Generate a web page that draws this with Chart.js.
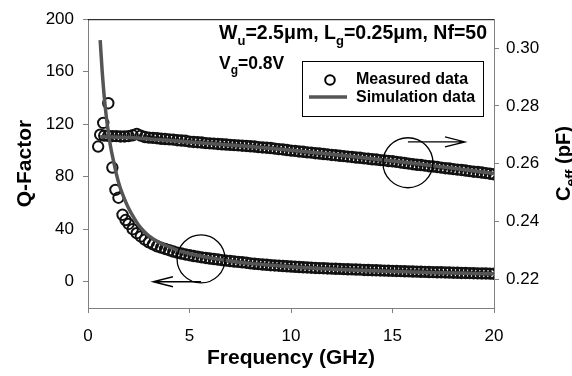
<!DOCTYPE html>
<html>
<head>
<meta charset="utf-8">
<script src="https://cdn.jsdelivr.net/npm/chart.js@4.4.1/dist/chart.umd.min.js"></script>
<style>
  html, body { margin: 0; padding: 0; background: #fff; }
  canvas { display: block; }
</style>
</head>
<body>
<canvas id="myChart" width="572" height="376"></canvas>
<script>
// values
const freqMeas = [2,2.2,2.4,2.6,2.8,3,3.2,3.4,3.6,3.8,4,4.2,4.4,4.6,4.8,5,5.2,5.4,5.6,5.8,
  6,6.2,6.4,6.6,6.8,7,7.2,7.4,7.6,7.8,8,8.2,8.4,8.6,8.8,9,9.2,9.4,9.6,9.8,
  10,10.2,10.4,10.6,10.8,11,11.2,11.4,11.6,11.8,12,12.2,12.4,12.6,12.8,13,13.2,13.4,13.6,13.8,
  14,14.2,14.4,14.6,14.8,15,15.2,15.4,15.6,15.8,16,16.2,16.4,16.6,16.8,17,17.2,17.4,17.6,17.8,
  18,18.2,18.4,18.6,18.8,19,19.2,19.4,19.6,19.8,20];

const freqQLow = [0.5,0.75,1.0,1.2,1.35,1.5,1.7,1.85];
const qMeasLow = [103,121,136,87,70,64,51,47];
const qMeas = [44,40,37,34.5,32,30,28.5,27,26,25,
  24,23,22.2,21.5,20.8,20.2,19.6,19.1,18.6,18.1,
  17.7,17.3,16.9,16.5,16.1,15.8,15.4,15.1,14.8,14.5,
  14.0,13.7,13.4,13.1,12.9,12.6,12.4,12.2,12.0,11.8,
  11.6,11.4,11.2,11.0,10.9,10.7,10.5,10.4,10.3,10.1,
  10.0,9.9,9.8,9.6,9.5,9.4,9.3,9.2,9.0,8.9,
  8.8,8.7,8.6,8.5,8.4,8.3,8.2,8.1,8.0,7.9,
  7.8,7.7,7.6,7.5,7.4,7.3,7.2,7.2,7.1,7.0,
  6.9,6.8,6.7,6.7,6.6,6.5,6.4,6.3,6.3,6.2,
  6.1];

const freqCLow = [0.6,0.8,1.0,1.2,1.4,1.6,1.8];
const cMeasLow = [0.2700,0.2697,0.2696,0.2695,0.2695,0.2694,0.2694];
const cMeas = [0.2695,0.2698,0.2703,0.2697,0.2692,0.2690,0.2689,0.2688,0.2686,0.2685,
  0.2684,0.2683,0.2681,0.2680,0.2679,0.2676,0.2675,0.2674,0.2673,0.2671,
  0.2670,0.2669,0.2668,0.2667,0.2666,0.2665,0.2664,0.2663,0.2662,0.2661,
  0.2660,0.2659,0.2657,0.2656,0.2655,0.2654,0.2652,0.2650,0.2649,0.2647,
  0.2645,0.2644,0.2642,0.2641,0.2639,0.2638,0.2636,0.2635,0.2633,0.2632,
  0.2630,0.2629,0.2627,0.2626,0.2624,0.2623,0.2621,0.2620,0.2618,0.2617,
  0.2615,0.2614,0.2612,0.2611,0.2609,0.2608,0.2606,0.2604,0.2602,0.2600,
  0.2598,0.2596,0.2595,0.2593,0.2591,0.2590,0.2588,0.2586,0.2584,0.2583,
  0.2581,0.2579,0.2578,0.2576,0.2574,0.2572,0.2571,0.2569,0.2567,0.2565,
  0.2563];

const freqQSim = [0.6,0.7,0.8,0.9,1.0,1.1,1.2,1.3,1.4,1.5,1.6,1.8,2.0,2.25,2.5,2.75,3.0,3.5,4.0,4.5,5,
  6,7,8,9,10,11,12,13,14,15,16,17,18,19,20];
const qSim = [184,160,141,126,114,104,96,89,82,76,71,63,56,49,43,38.5,35,30,26.5,23.5,21.5,
  18.2,15.8,14,12.6,11.4,10.4,9.6,8.9,8.3,7.8,7.4,7.0,6.6,6.3,6.0];

const freqCSim = [0.6,2,4,6,8,10,12,14,16,18,20];
const cSim = [0.2693,0.2690,0.2680,0.2670,0.2659,0.2646,0.2632,0.2617,0.2601,0.2584,0.2566];

const qTicks = [0,40,80,120,160,200];
const cTicks = [0.22,0.24,0.26,0.28,0.30];

const FONT = '"Liberation Sans", Arial, sans-serif';
const LINE_GRAY = '#555555';
const AXIS_GRAY = '#808080';

const toPoints = (xs, ys) => xs.map((x, i) => ({ x: x, y: ys[i] }));

// text with subscript parts; align 'left', 'center' or 'right' on x
const drawRich = (ctx, parts, x, y, size, align) => {
  const subSize = Math.round(size * 0.68);
  let total = 0;
  parts.forEach(p => {
    ctx.font = 'bold ' + (p[1] ? subSize : size) + 'px ' + FONT;
    total += ctx.measureText(p[0]).width;
  });
  let cx = align === 'center' ? x - total / 2 : align === 'right' ? x - total : x;
  ctx.textAlign = 'left';
  ctx.textBaseline = 'alphabetic';
  parts.forEach(p => {
    ctx.font = 'bold ' + (p[1] ? subSize : size) + 'px ' + FONT;
    ctx.fillText(p[0], cx, y + (p[1] ? size * 0.3 : 0));
    cx += ctx.measureText(p[0]).width;
  });
};

const arrow = (ctx, x1, y, x2) => {
  const dir = x2 > x1 ? 1 : -1;
  ctx.beginPath();
  ctx.moveTo(x1, y);
  ctx.lineTo(x2, y);
  ctx.moveTo(x2 - dir * 20, y - 5);
  ctx.lineTo(x2, y);
  ctx.lineTo(x2 - dir * 20, y + 5);
  ctx.stroke();
};

const extras = {
  id: 'extras',
  afterDraw(chart) {
    const ctx = chart.ctx;
    const { x, y, y1 } = chart.scales;
    const area = chart.chartArea;
    ctx.save();

    // top frame line
    ctx.strokeStyle = '#000';
    ctx.lineWidth = 1;
    ctx.beginPath();
    ctx.moveTo(area.left, area.top + 0.5);
    ctx.lineTo(area.right, area.top + 0.5);
    ctx.stroke();

    // marker circles and arrows
    ctx.lineWidth = 1.3;
    ctx.beginPath();
    ctx.arc(x.getPixelForValue(5.57), y.getPixelForValue(17.4), 24, 0, Math.PI * 2);
    ctx.stroke();
    arrow(ctx, x.getPixelForValue(5.57), y.getPixelForValue(0), x.getPixelForValue(3.2));
    ctx.beginPath();
    ctx.arc(x.getPixelForValue(15.76), y1.getPixelForValue(0.2603), 25, 0, Math.PI * 2);
    ctx.stroke();
    arrow(ctx, x.getPixelForValue(15.76), y1.getPixelForValue(0.2675), x.getPixelForValue(18.57));

    // device text
    ctx.fillStyle = '#000';
    drawRich(ctx, [['W'], ['u', true], ['=2.5\u03bcm, L'], ['g', true], ['=0.25\u03bcm, Nf=50']], 487, 39, 19.5, 'right');
    drawRich(ctx, [['V'], ['g', true], ['=0.8V']], 219, 69, 17.5, 'left');

    // legend
    ctx.fillStyle = '#fff';
    ctx.fillRect(302.5, 61.5, 181, 55);
    ctx.strokeStyle = '#000';
    ctx.lineWidth = 1;
    ctx.strokeRect(302.5, 61.5, 181, 55);
    ctx.lineWidth = 2;
    ctx.beginPath();
    ctx.arc(330, 80, 4.8, 0, Math.PI * 2);
    ctx.stroke();
    ctx.strokeStyle = LINE_GRAY;
    ctx.lineWidth = 3.5;
    ctx.beginPath();
    ctx.moveTo(309, 97);
    ctx.lineTo(347, 97);
    ctx.stroke();
    ctx.fillStyle = '#000';
    ctx.font = 'bold 16px ' + FONT;
    ctx.textAlign = 'left';
    ctx.textBaseline = 'middle';
    ctx.fillText('Measured data', 356, 80);
    ctx.fillText('Simulation data', 356, 98);

    // axis titles
    ctx.font = 'bold 21px ' + FONT;
    ctx.textAlign = 'center';
    ctx.textBaseline = 'middle';
    ctx.fillText('Frequency (GHz)', (area.left + area.right) / 2, 358);
    ctx.save();
    ctx.translate(25, (area.top + area.bottom) / 2);
    ctx.rotate(-Math.PI / 2);
    ctx.fillText('Q-Factor', 0, 0);
    ctx.restore();
    ctx.save();
    ctx.translate(570, (area.top + area.bottom) / 2);
    ctx.rotate(-Math.PI / 2);
    drawRich(ctx, [['C'], ['eff', true], [' (pF)']], 0, 0, 20, 'center');
    ctx.restore();

    ctx.restore();
  }
};

const tickStyle = { color: '#000', font: { family: FONT, size: 17 } };

const printChart = () => {
  const ctx = document.getElementById('myChart').getContext('2d');
  new Chart(ctx, {
    type: 'scatter',
    data: {
      datasets: [
        {
          label: 'Q simulation',
          data: toPoints(freqQSim, qSim),
          showLine: true,
          cubicInterpolationMode: 'monotone',
          borderColor: LINE_GRAY,
          borderWidth: 3.5,
          pointRadius: 0,
          yAxisID: 'y'
        },
        {
          label: 'Ceff simulation',
          data: toPoints(freqCSim, cSim),
          showLine: true,
          cubicInterpolationMode: 'monotone',
          borderColor: LINE_GRAY,
          borderWidth: 3.5,
          pointRadius: 0,
          yAxisID: 'y1'
        },
        {
          label: 'Q measured',
          data: toPoints(freqQLow.concat(freqMeas), qMeasLow.concat(qMeas)),
          pointStyle: 'circle',
          pointRadius: 5.2,
          borderWidth: 2,
          borderColor: '#111',
          backgroundColor: 'rgba(0,0,0,0)',
          yAxisID: 'y'
        },
        {
          label: 'Ceff measured',
          data: toPoints(freqCLow.concat(freqMeas), cMeasLow.concat(cMeas)),
          pointStyle: 'circle',
          pointRadius: 5.2,
          borderWidth: 2,
          borderColor: '#111',
          backgroundColor: 'rgba(0,0,0,0)',
          yAxisID: 'y1'
        }
      ]
    },
    options: {
      responsive: false,
      animation: false,
      layout: { padding: { top: 16, left: 0, right: 0, bottom: 0 } },
      plugins: { legend: { display: false }, tooltip: { enabled: false } },
      scales: {
        x: {
          type: 'linear',
          min: 0,
          max: 20,
          ticks: Object.assign({ stepSize: 5, padding: 13 }, tickStyle),
          grid: { drawOnChartArea: false, tickLength: 5, color: AXIS_GRAY },
          border: { color: AXIS_GRAY },
          afterFit: s => { s.height = 68; }
        },
        y: {
          position: 'left',
          min: -20,
          max: 200,
          afterBuildTicks: s => { s.ticks = qTicks.map(v => ({ value: v })); },
          ticks: Object.assign({ padding: 9 }, tickStyle),
          grid: { drawOnChartArea: false, tickLength: 5, color: AXIS_GRAY },
          border: { color: AXIS_GRAY },
          afterFit: s => { s.width = 88; }
        },
        y1: {
          position: 'right',
          min: 0.21,
          max: 0.31,
          afterBuildTicks: s => { s.ticks = cTicks.map(v => ({ value: v })); },
          ticks: Object.assign({ padding: 7, callback: v => v.toFixed(2) }, tickStyle),
          grid: { drawOnChartArea: false, tickLength: 5, color: AXIS_GRAY },
          border: { color: AXIS_GRAY },
          afterFit: s => { s.width = 78; }
        }
      }
    },
    plugins: [extras]
  });
};

printChart();
</script>
</body>
</html>
